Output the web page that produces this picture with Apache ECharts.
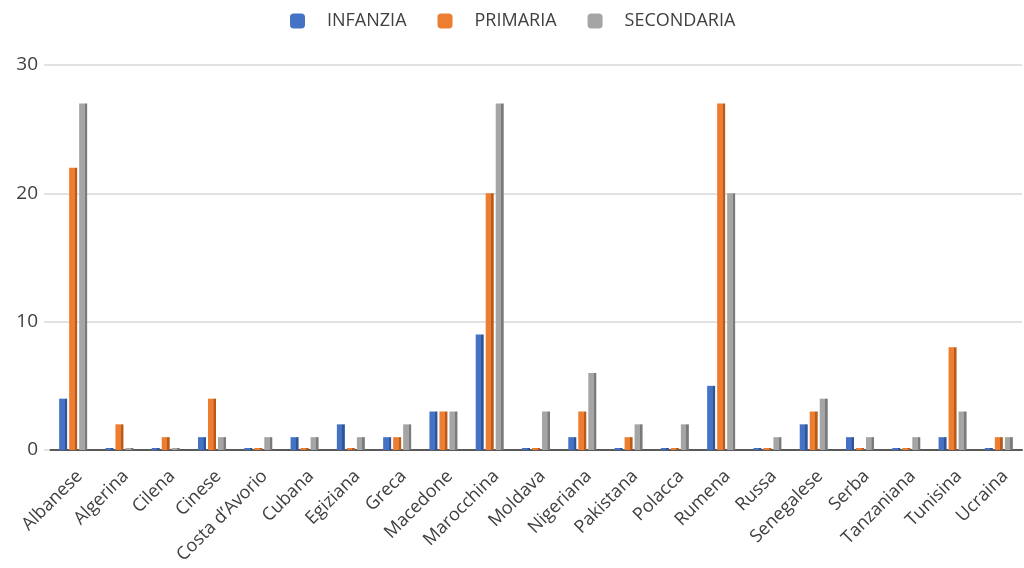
<!DOCTYPE html>
<html>
<head>
<meta charset="utf-8">
<script src="https://cdn.jsdelivr.net/npm/echarts@6/dist/echarts.min.js"></script>
<style>
  html, body { margin: 0; padding: 0; background: #ffffff; }
  #chart { width: 1024px; height: 568px; }
</style>
</head>
<body>
<div id="chart"></div>
<script>
// Studenti per nazionalità e ordine di scuola
const categories = ['Albanese', 'Algerina', 'Cilena', 'Cinese', 'Costa d\u2019Avorio', 'Cubana', 'Egiziana',
  'Greca', 'Macedone', 'Marocchina', 'Moldava', 'Nigeriana', 'Pakistana', 'Polacca', 'Rumena', 'Russa',
  'Senegalese', 'Serba', 'Tanzaniana', 'Tunisina', 'Ucraina'];
const infanzia   = [4, 0, 0, 1, 0, 1, 2, 1, 3, 9, 0, 1, 0, 0, 5, 0, 2, 1, 0, 1, 0];
const primaria   = [22, 2, 1, 4, 0, 0, 0, 1, 3, 20, 0, 3, 1, 0, 27, 0, 3, 0, 0, 8, 1];
const secondaria = [27, 0, 0, 1, 1, 1, 1, 2, 3, 27, 3, 6, 2, 2, 20, 1, 4, 1, 1, 3, 1];
const seriesNames = ['INFANZIA', 'PRIMARIA', 'SECONDARIA'];
const yTicks = [0, 10, 20, 30];

const FONT = '"Open Sans", "Noto Sans", sans-serif';
const TEXT = '#404040';

// front face + darker side face to give the columns a shaded edge
function shaded(front, side) {
  return new echarts.graphic.LinearGradient(0, 0, 1, 0, [
    { offset: 0, color: front },
    { offset: 0.68, color: front },
    { offset: 0.7, color: side },
    { offset: 1, color: side }
  ]);
}

const palette = [
  ['#4472c4', '#2f5597'],
  ['#ed7d31', '#b85a1c'],
  ['#a5a5a5', '#7a7a7a']
];
const values = [infanzia, primaria, secondaria];

const chart = echarts.init(document.getElementById('chart'), null, { renderer: 'canvas' });
chart.setOption({
  animation: false,
  backgroundColor: '#ffffff',
  legend: {
    top: 7,
    left: 285,
    itemWidth: 15,
    itemHeight: 15,
    itemGap: 31,
    icon: 'roundRect',
    textStyle: { fontFamily: FONT, fontSize: 18, color: TEXT, padding: [0, 0, 0, 17] },
    data: seriesNames.map((n, i) => ({ name: n, itemStyle: { color: palette[i][0] } }))
  },
  grid: { left: 50, right: 2, top: 65, bottom: 118, containLabel: false },
  xAxis: {
    type: 'category',
    data: categories,
    axisLine: { show: true, lineStyle: { color: '#595959', width: 2 } },
    axisTick: { show: false },
    axisLabel: {
      rotate: 45,
      interval: 0,
      margin: 17,
      verticalAlign: 'top',
      fontFamily: FONT,
      fontSize: 18,
      color: TEXT
    }
  },
  yAxis: {
    type: 'value',
    min: 0,
    max: 30,
    interval: 10,
    axisLine: { show: false },
    axisTick: { show: true, length: 6, lineStyle: { color: '#d9d9d9', width: 1.5 } },
    splitLine: { lineStyle: { color: '#d9d9d9', width: 1.5 } },
    axisLabel: {
      margin: 12,
      fontFamily: FONT,
      fontSize: 19,
      color: TEXT,
      formatter: v => (yTicks.indexOf(v) >= 0 ? String(v) : '')
    }
  },
  series: seriesNames.map((name, i) => ({
    name: name,
    type: 'bar',
    data: values[i],
    barWidth: 8,
    barGap: '25%',
    barMinHeight: 2,
    itemStyle: { color: shaded(palette[i][0], palette[i][1]) }
  }))
});
</script>
</body>
</html>
